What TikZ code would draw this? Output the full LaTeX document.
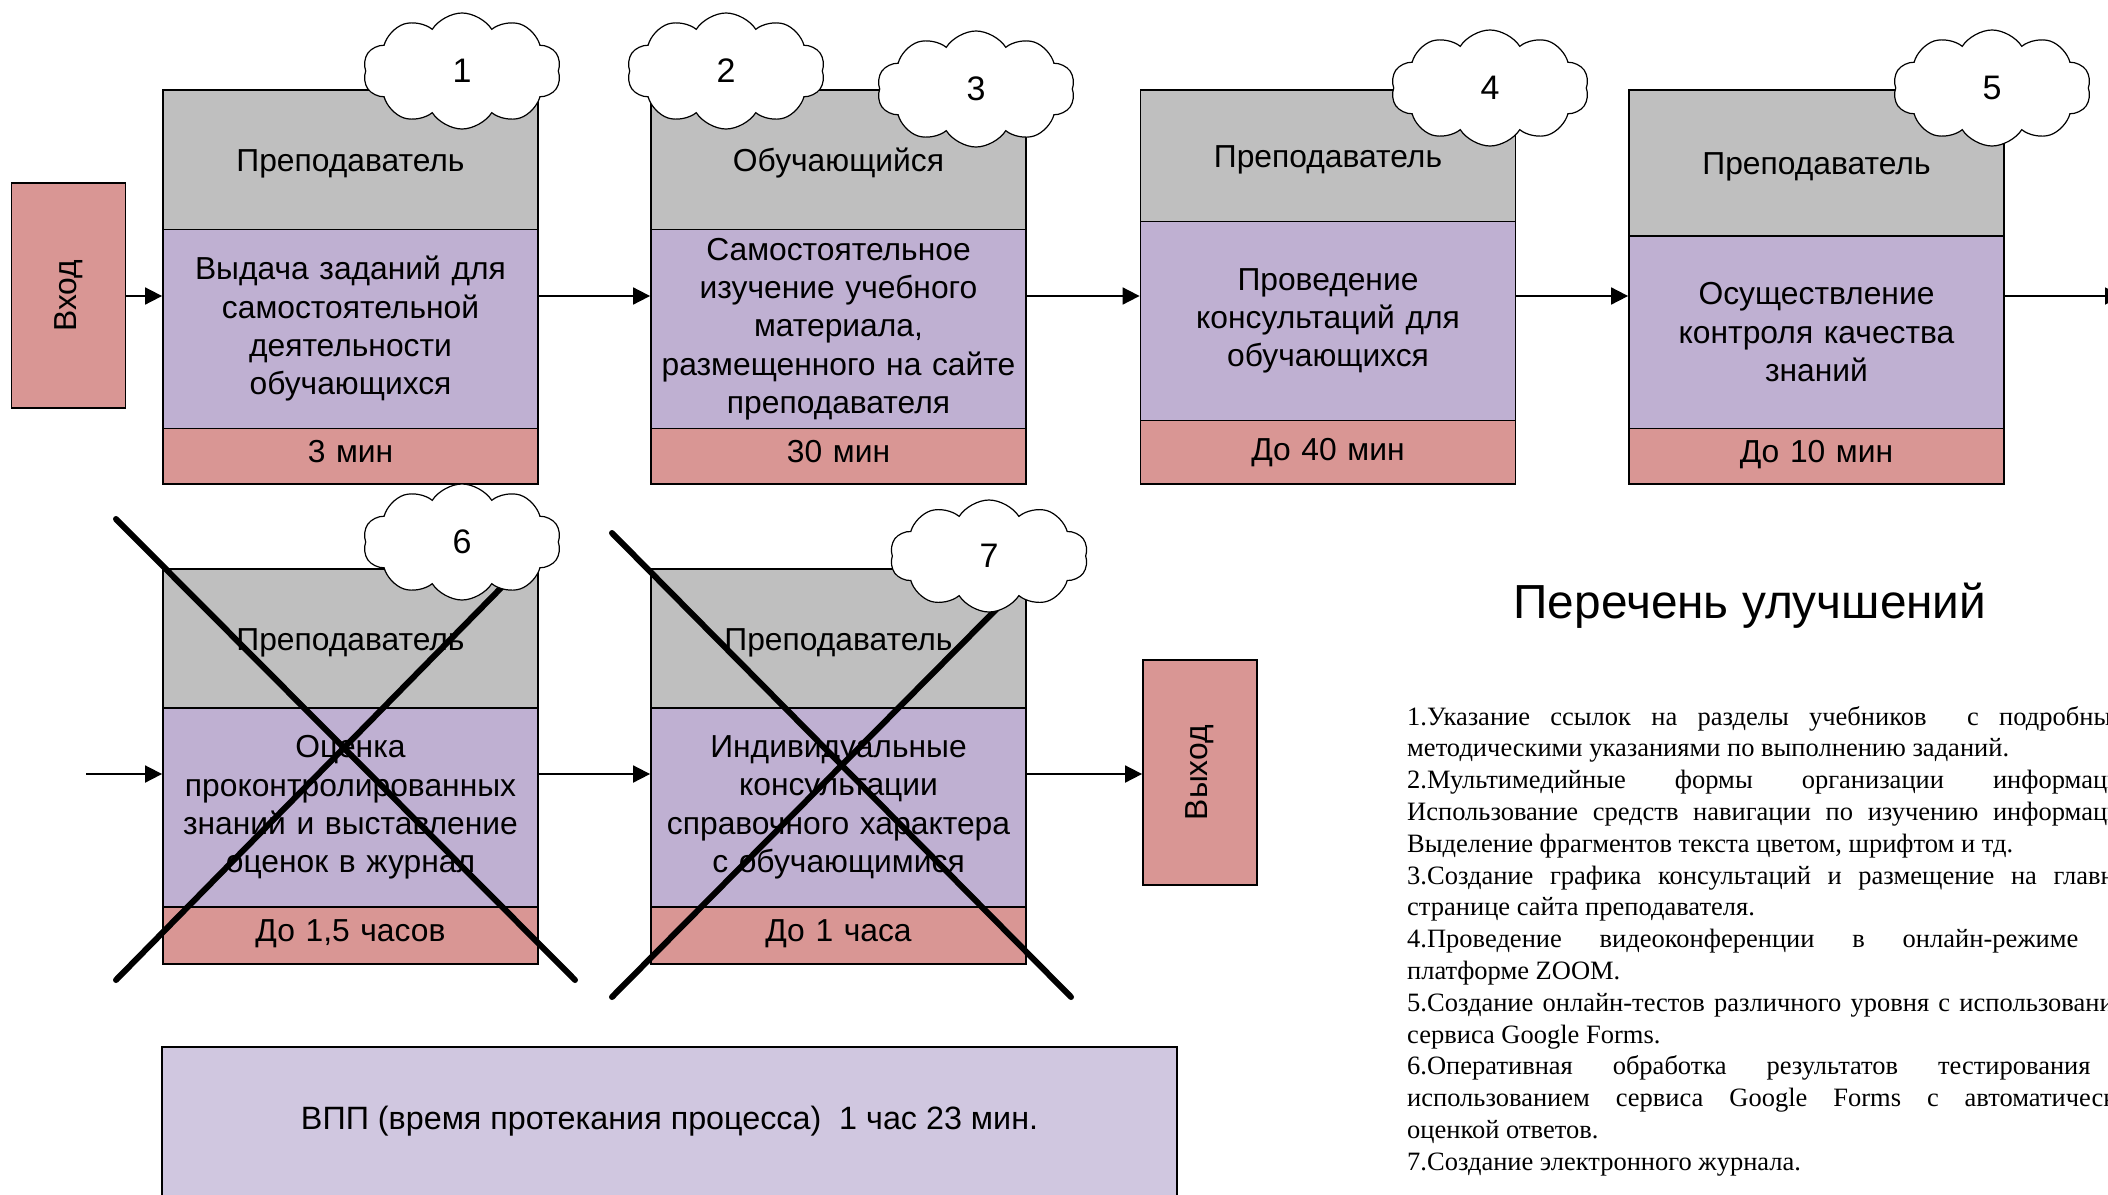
\documentclass[tikz,border=0pt]{standalone}
\usepackage{fontspec}
\usepackage{graphicx}
\setmainfont{Liberation Sans}
\newfontfamily\serifru{Liberation Serif}
\usetikzlibrary{shapes.symbols,arrows.meta}
\definecolor{hdrgray}{HTML}{BFBFBF}
\definecolor{bodypurple}{HTML}{BFB0D2}
\definecolor{timered}{HTML}{D99694}
\definecolor{vppfill}{HTML}{D0C7E0}
\begin{document}
\begin{tikzpicture}[x=1pt,y=-1pt,
  cell/.style={draw=black,line width=1.8pt,minimum width=375pt,inner sep=0pt,
    align=center,text width=365pt,font=\fontsize{31.8}{38.3}\selectfont,anchor=north},
  hdr/.style={cell,fill=hdrgray,text height=30.7pt,text depth=6.7pt},
  body/.style={cell,fill=bodypurple},
  tbox/.style={cell,fill=timered,text height=22.7pt,text depth=11pt},
  iobox/.style={draw=black,line width=1.8pt,fill=timered,minimum width=114pt,
    minimum height=225pt,inner sep=0pt,font=\fontsize{31.8}{38}\selectfont},
  conn/.style={line width=1.8pt,-{Triangle[length=17pt,width=17pt]}},
  crossline/.style={line width=6pt,line cap=round},
  cloudy/.style={cloud,cloud puffs=10,cloud puff arc=115,aspect=1.7,draw=black,
    line width=1.2pt,fill=white,minimum width=198pt,minimum height=116pt,
    inner sep=0pt,font=\fontsize{34}{40}\selectfont},
  listline/.style={anchor=base west,inner sep=0pt,font=\serifru\fontsize{26.5}{31.8}\selectfont}
]
\path[use as bounding box,fill=white] (0,0) rectangle (2108,1194);

% Row 1
\node[hdr,minimum height=139.5pt] (hA) at (350.5,89) {Преподаватель};
\node[body,minimum height=199pt] (bA) at (350.5,228.5) {Выдача заданий для\\самостоятельной\\деятельности\\обучающихся};
\node[tbox,minimum height=55.5pt] (tA) at (350.5,427.5) {3 мин};

\node[hdr,minimum height=139.5pt] (hB) at (838.5,89) {Обучающийся};
\node[body,minimum height=199pt] (bB) at (838.5,228.5) {Самостоятельное\\изучение учебного\\материала,\\размещенного на сайте\\преподавателя};
\node[tbox,minimum height=55.5pt] (tB) at (838.5,427.5) {30 мин};

\node[hdr,minimum height=131.5pt] (hC) at (1328,89) {Преподаватель};
\node[body,minimum height=199pt] (bC) at (1328,220.5) {Проведение\\консультаций для\\обучающихся};
\node[tbox,minimum height=63.5pt,text depth=6.7pt] (tC) at (1328,419.5) {До 40 мин};

\node[hdr,minimum height=146pt] (hD) at (1816.5,89) {Преподаватель};
\node[body,minimum height=192.5pt] (bD) at (1816.5,235) {Осуществление\\контроля качества\\знаний};
\node[tbox,minimum height=55.5pt] (tD) at (1816.5,427.5) {До 10 мин};

% Row 2
\node[hdr,minimum height=139pt] (hE) at (350.5,568) {Преподаватель};
\node[body,minimum height=199pt] (bE) at (350.5,707) {Оценка\\проконтролированных\\знаний и выставление\\оценок в журнал};
\node[tbox,minimum height=57pt] (tE) at (350.5,906) {До 1,5 часов};

\node[hdr,minimum height=139pt] (hF) at (838.5,568) {Преподаватель};
\node[body,minimum height=199pt] (bF) at (838.5,707) {Индивидуальные\\консультации\\справочного характера\\с обучающимися};
\node[tbox,minimum height=57pt] (tF) at (838.5,906) {До 1 часа};

% Input / output
\node[iobox] (vhod) at (68.5,295.5) {\rotatebox{90}{Вход}};
\node[iobox] (vyhod) at (1200,772.5) {\rotatebox{90}{Выход}};

% Connectors
\coordinate (r1) at (0,296);
\coordinate (out1) at (2122,296);
\coordinate (in2) at (86,774);
\draw[conn] (vhod.east |- r1) -- (bA.west |- r1);
\draw[conn] (bA.east |- r1) -- (bB.west |- r1);
\draw[conn] (bB.east |- r1) -- (bC.west |- r1);
\draw[conn] (bC.east |- r1) -- (bD.west |- r1);
\draw[conn] (bD.east |- r1) -- (out1);
\draw[conn] (in2) -- (bE.west |- in2);
\draw[conn] (bE.east |- in2) -- (bF.west |- in2);
\draw[conn] (bF.east |- in2) -- (vyhod.west |- in2);

% Crosses
\draw[crossline] (116,519) -- (575,980);
\draw[crossline] (116,980) -- (550,538);
\draw[crossline] (612,533) -- (1071,997);
\draw[crossline] (612,997) -- (1050,555);

% Clouds
\node[cloudy] (c1) at (462,71) {1};
\node[cloudy] (c2) at (726,71) {2};
\node[cloudy] (c3) at (976,89) {3};
\node[cloudy] (c4) at (1490,88) {4};
\node[cloudy] (c5) at (1992,88) {5};
\node[cloudy] (c6) at (462,542) {6};
\node[cloudy,minimum height=112pt] (c7) at (989,556) {7};

% Total time
\node[draw=black,line width=1.8pt,fill=vppfill,minimum width=1015pt,minimum height=149pt,
  inner sep=0pt,font=\fontsize{32.3}{38}\selectfont] (vpp) at (669.5,1121.5)
  {ВПП (время протекания процесса)\ \ 1 час 23 мин.};

% Improvements list
\node[font=\fontsize{47.8}{56}\selectfont,inner sep=0pt] (title) at (1750,606) {Перечень улучшений};
\node[listline] (l1) at (1407,725) {\makebox[735pt][s]{1.Указание ссылок на разделы учебников\ \ с подробными}};
\node[listline] (l2) at (1407,756.8) {методическими указаниями по выполнению заданий.};
\node[listline] (l3) at (1407,788.6) {\makebox[735pt][s]{2.Мультимедийные формы организации информации.}};
\node[listline] (l4) at (1407,820.4) {\makebox[735pt][s]{Использование средств навигации по изучению информации.}};
\node[listline] (l5) at (1407,852.2) {Выделение фрагментов текста цветом, шрифтом и тд.};
\node[listline] (l6) at (1407,884) {\makebox[735pt][s]{3.Создание графика консультаций и размещение на главной}};
\node[listline] (l7) at (1407,915.8) {странице сайта преподавателя.};
\node[listline] (l8) at (1407,947.6) {\makebox[735pt][s]{4.Проведение видеоконференции в онлайн-режиме на}};
\node[listline] (l9) at (1407,979.4) {платформе ZOOM.};
\node[listline] (l10) at (1407,1011.2) {\makebox[735pt][s]{5.Создание онлайн-тестов различного уровня с использованием}};
\node[listline] (l11) at (1407,1043) {сервиса Google Forms.};
\node[listline] (l12) at (1407,1074.8) {\makebox[735pt][s]{6.Оперативная обработка результатов тестирования с}};
\node[listline] (l13) at (1407,1106.6) {\makebox[735pt][s]{использованием сервиса Google Forms с автоматической}};
\node[listline] (l14) at (1407,1138.4) {оценкой ответов.};
\node[listline] (l15) at (1407,1170.2) {7.Создание электронного журнала.};
\end{tikzpicture}
\end{document}
